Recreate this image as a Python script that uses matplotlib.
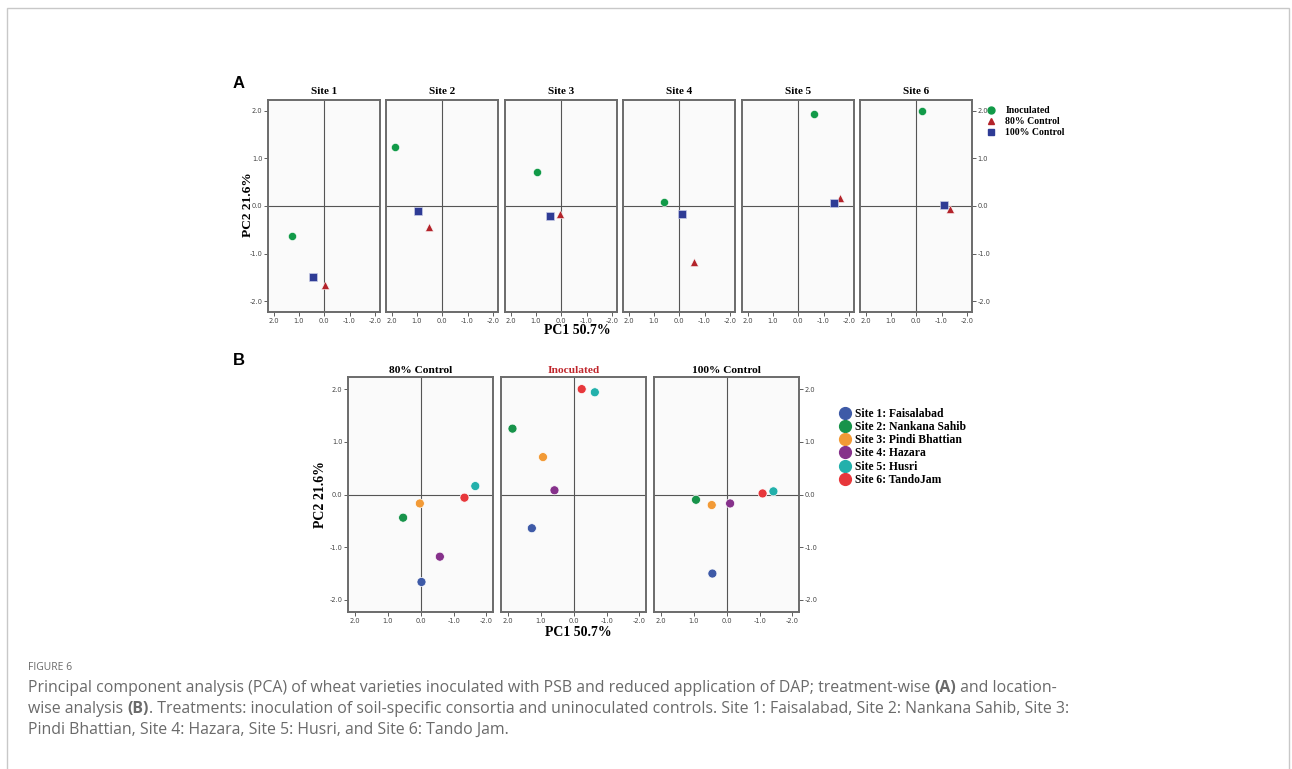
import matplotlib
matplotlib.use('Agg')
import matplotlib.pyplot as plt
from matplotlib.lines import Line2D
from matplotlib.patches import Rectangle

# PCA scores (PC1, PC2) per site for each treatment
sites = ['Site 1', 'Site 2', 'Site 3', 'Site 4', 'Site 5', 'Site 6']
site_names = ['Site 1: Faisalabad', 'Site 2: Nankana Sahib', 'Site 3: Pindi Bhattian',
              'Site 4: Hazara', 'Site 5: Husri', 'Site 6: TandoJam']
inoc_pc1 = [1.28, 1.87, 0.94, 0.59, -0.64, -0.24]
inoc_pc2 = [-0.64, 1.25, 0.71, 0.08, 1.94, 2.00]
c80_pc1 = [-0.02, 0.54, 0.03, -0.58, -1.66, -1.33]
c80_pc2 = [-1.66, -0.44, -0.17, -1.18, 0.16, -0.06]
c100_pc1 = [0.44, 0.94, 0.46, -0.10, -1.42, -1.09]
c100_pc2 = [-1.50, -0.10, -0.20, -0.17, 0.06, 0.02]

ticks = [2, 1, 0, -1, -2]
tick_labels = ['2.0', '1.0', '0.0', '-1.0', '-2.0']

treat_colors = {'Inoculated': '#119a48', '80% Control': '#b3232a', '100% Control': '#2e3b95'}
site_colors = ['#3e5aa7', '#17934a', '#f29a36', '#86318b', '#22b0ab', '#e7373b']

W, H = 1292, 769
fig = plt.figure(figsize=(W / 100, H / 100), dpi=100)
fig.patch.set_facecolor('white')

serif = 'Liberation Serif'


def px_axes(x0, y0, x1, y1):
    return fig.add_axes([x0 / W, 1 - y1 / H, (x1 - x0) / W, (y1 - y0) / H])


def style_axis(ax, left=False, right=False):
    ax.set_facecolor('#fafafa')
    ax.set_xlim(2.22, -2.2)
    ax.set_ylim(-2.23, 2.23)
    ax.axhline(0, color='#555555', lw=0.8, zorder=1)
    ax.axvline(0, color='#555555', lw=0.8, zorder=1)
    for s in ax.spines.values():
        s.set_color('#6b6b6b')
        s.set_linewidth(1.4)
    ax.set_xticks(ticks)
    ax.set_xticklabels(tick_labels)
    ax.set_yticks(ticks)
    ax.set_yticklabels(tick_labels)
    ax.tick_params(axis='both', labelsize=4.8, colors='#444444', length=3, width=0.6, pad=1)
    if right:
        ax.yaxis.tick_right()
    elif not left:
        ax.tick_params(axis='y', left=False, labelleft=False)


# ---- Panel A: one panel per site
a_x = [268, 386, 505, 623, 742, 860]
for i, site in enumerate(sites):
    ax = px_axes(a_x[i], 100, a_x[i] + 112, 312)
    style_axis(ax, left=(i == 0), right=(i == 5))
    ax.scatter(inoc_pc1[i], inoc_pc2[i], s=34, marker='o', color=treat_colors['Inoculated'],
               edgecolors='white', linewidths=0.4, zorder=3)
    ax.scatter(c80_pc1[i], c80_pc2[i], s=34, marker='^', color=treat_colors['80% Control'],
               edgecolors='white', linewidths=0.4, zorder=3)
    ax.scatter(c100_pc1[i], c100_pc2[i], s=34, marker='s', color=treat_colors['100% Control'],
               edgecolors='#c8cbe6', linewidths=0.5, zorder=3)
    ax.set_title(site, fontfamily=serif, fontweight='bold', fontsize=8, pad=4)

fig.text(577 / W, 1 - 331 / H, 'PC1 50.7%', ha='center', va='center',
         fontfamily=serif, fontweight='bold', fontsize=10)
fig.text(248 / W, 1 - 205 / H, 'PC2 21.6%', ha='center', va='center', rotation=90,
         fontfamily=serif, fontweight='bold', fontsize=9.6)
fig.text(233 / W, 1 - 84 / H, 'A', ha='left', va='center', fontfamily='Liberation Sans',
         fontweight='bold', fontsize=12)

hA = [Line2D([], [], ls='', marker='o', color=treat_colors['Inoculated'], markersize=5),
      Line2D([], [], ls='', marker='^', color=treat_colors['80% Control'], markersize=5),
      Line2D([], [], ls='', marker='s', color=treat_colors['100% Control'], markersize=5)]
fig.legend(hA, ['Inoculated', '80% Control', '100% Control'], loc='upper left',
           bbox_to_anchor=(987 / W, 1 - 106 / H), frameon=False, handlelength=0.9,
           handletextpad=1.0, labelspacing=0.22, borderaxespad=0, borderpad=0,
           prop={'family': serif, 'weight': 'bold', 'size': 7})

# ---- Panel B: one panel per treatment
b_sets = [('80% Control', c80_pc1, c80_pc2, 'black'),
          ('Inoculated', inoc_pc1, inoc_pc2, '#c0272d'),
          ('100% Control', c100_pc1, c100_pc2, 'black')]
b_x = [348, 501, 654]
for j, (name, px, py, tcol) in enumerate(b_sets):
    ax = px_axes(b_x[j], 377, b_x[j] + 145, 612)
    style_axis(ax, left=(j == 0), right=(j == 2))
    ax.scatter(px, py, s=42, marker='o', c=site_colors, edgecolors='white',
               linewidths=0.5, zorder=3)
    ax.set_title(name, fontfamily=serif, fontweight='bold', fontsize=8.2, color=tcol, pad=3)

fig.text(578 / W, 1 - 632 / H, 'PC1 50.7%', ha='center', va='center',
         fontfamily=serif, fontweight='bold', fontsize=10)
fig.text(320 / W, 1 - 495 / H, 'PC2 21.6%', ha='center', va='center', rotation=90,
         fontfamily=serif, fontweight='bold', fontsize=10)
fig.text(233 / W, 1 - 360 / H, 'B', ha='left', va='center', fontfamily='Liberation Sans',
         fontweight='bold', fontsize=12)

hB = [Line2D([], [], ls='', marker='o', color=c, markersize=8.5) for c in site_colors]
fig.legend(hB, site_names, loc='upper left', bbox_to_anchor=(839 / W, 1 - 408 / H),
           frameon=False, handlelength=1.0, handletextpad=0.4, labelspacing=0.1,
           borderaxespad=0, borderpad=0,
           prop={'family': serif, 'weight': 'bold', 'size': 8.4})

# ---- outer frame and caption
fig.add_artist(Rectangle((7 / W, -0.05), (1289 - 7) / W, 1 - 8 / H + 0.05,
                         transform=fig.transFigure, fill=False, ec='#c8c8c8', lw=1.0))

cap_font = 'Open Sans'
cap_col = '#6a6a6a'
fig.text(28 / W, 1 - 667 / H, 'FIGURE 6', ha='left', va='center', fontfamily=cap_font,
         fontsize=7.5, color=cap_col)

cap_lines = [
    [('Principal component analysis (PCA) of wheat varieties inoculated with PSB and reduced '
      'application of DAP; treatment-wise ', 'normal'), ('(A)', 'bold'), (' and location-', 'normal')],
    [('wise analysis ', 'normal'), ('(B)', 'bold'),
     ('. Treatments: inoculation of soil-specific consortia and uninoculated controls. Site 1: '
      'Faisalabad, Site 2: Nankana Sahib, Site 3:', 'normal')],
    [('Pindi Bhattian, Site 4: Hazara, Site 5: Husri, and Site 6: Tando Jam.', 'normal')],
]
cap_y = [688, 709, 730]
fig.canvas.draw()
renderer = fig.canvas.get_renderer()
for line, yy in zip(cap_lines, cap_y):
    x = 28
    for txt, wt in line:
        t = fig.text(x / W, 1 - yy / H, txt, ha='left', va='center', fontfamily=cap_font,
                     fontsize=11.4, color=cap_col, fontweight=wt)
        bb = t.get_window_extent(renderer=renderer)
        x = x + bb.width

fig.savefig('out.png', dpi=100, facecolor='white')
